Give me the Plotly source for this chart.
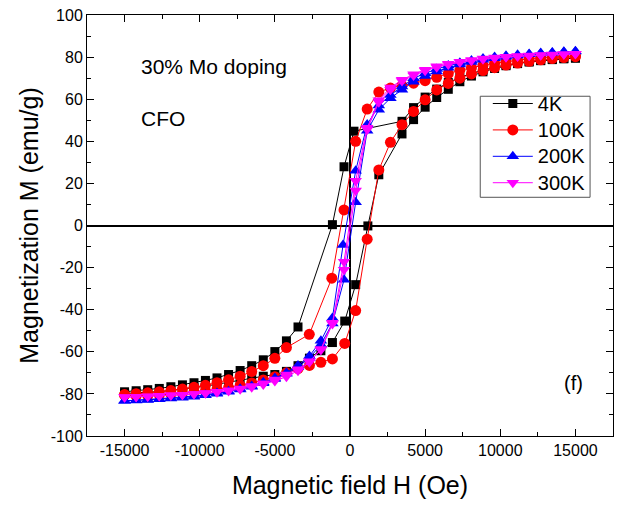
import plotly.graph_objects as go

# ---- field grid (Oe) ----
H_TAIL_POS = [15000, 14230, 13460, 12690, 11920, 11150, 10380, 9620, 8850, 8080,
              7310, 6540, 5770, 5000, 4230, 3460]
H_TAIL_NEG = [-3460, -4230, -5000, -5770, -6540, -7310, -8080, -8850, -9620, -10380,
              -11150, -11920, -12690, -13460, -14230, -15000]

# ---- 4 K ----
h4_down = H_TAIL_POS + [264, -397, -1170] + H_TAIL_NEG
m4_down = [79.6, 79.3, 78.9, 78.4, 77.8, 77.1, 76.2, 75.2, 73.9, 72.3, 70.3, 67.9, 64.8, 61.0, 56.0, 49.5,
           44.8, 27.9, 0.4,
           -48.2, -54.8, -59.9, -63.8, -66.6, -68.9, -70.8, -72.4, -73.6, -74.7, -75.7, -76.6, -77.4, -78.0, -78.5, -79.0]
h4_up = H_TAIL_NEG[::-1] + [-2700, -1936, -1170, -350, 377, 1190, 1917] + H_TAIL_POS[::-1]
m4_up = [-79.8, -79.6, -79.3, -78.9, -78.4, -77.8, -77.1, -76.3, -75.4, -74.4, -73.3, -72.3, -71.6, -70.8, -69.3, -66.6,
         -63.0, -59.5, -55.6, -45.4, -28.1, -0.2, 24.1,
         43.5, 50.3, 56.2, 60.8, 64.7, 68.3, 71.0, 73.0, 74.6, 75.9, 76.9, 77.7, 78.3, 78.8, 79.2, 79.5]

# ---- 100 K ----
h100_down = H_TAIL_POS + [2690, 1917, 1143, 377, -397, -1210, -2709] + H_TAIL_NEG[1:]
m100_down = [80.6, 80.4, 80.1, 79.7, 79.2, 78.6, 77.9, 77.1, 76.1, 75.0, 73.7, 72.2, 70.4, 68.8, 67.6, 66.5,
             65.3, 63.4, 55.3, 40.0, 7.4, -25.0, -51.7,
             -58.0, -63.1, -66.6, -69.4, -71.6, -73.3, -74.7, -75.9, -76.9, -77.7, -78.4, -79.0, -79.5, -79.9, -80.3, -80.6]
h100_up = H_TAIL_NEG[::-1] + [-2700, -1936, -1170, -350, 377, 1143, 1917, 2690] + H_TAIL_POS[::-1]
m100_up = [-81.0, -80.8, -80.5, -80.1, -79.7, -79.2, -78.6, -77.9, -77.0, -76.0, -74.8, -73.4, -71.8, -70.0, -68.0, -66.5,
           -65.0, -63.4, -56.0, -40.4, -6.5, 26.4, 39.5, 47.9,
           54.2, 59.7, 64.4, 67.5, 70.0, 72.0, 73.6, 75.0, 76.2, 77.2, 78.0, 78.7, 79.3, 79.8, 80.2, 80.5]

# ---- 200 K ----
h200_down = H_TAIL_POS + [2690, 1917, 1143, 377, -463, -1170, -1936, -2700] + H_TAIL_NEG
m200_down = [82.8, 82.5, 82.2, 81.9, 81.5, 81.1, 80.6, 80.0, 79.3, 78.4, 77.3, 76.0, 74.3, 72.3, 69.9, 66.0,
             62.0, 57.0, 48.0, 26.0, -9.3, -44.0, -54.8, -62.0,
             -66.5, -69.9, -72.5, -74.5, -76.2, -77.6, -78.7, -79.6, -80.4, -81.0, -81.5, -82.0, -82.4, -82.7, -83.0, -83.2]
h200_up = H_TAIL_NEG[::-1] + [-2700, -1936, -1170, -397, 377, 1143, 1917, 2690] + H_TAIL_POS[::-1]
m200_up = [-83.3, -83.1, -82.9, -82.6, -82.2, -81.8, -81.3, -80.7, -79.9, -79.0, -77.9, -76.6, -74.9, -72.9, -70.4, -67.2,
           -63.0, -56.5, -46.5, -25.8, 11.0, 45.0, 55.0, 60.5,
           64.5, 68.3, 71.0, 73.2, 75.0, 76.5, 77.7, 78.7, 79.5, 80.2, 80.8, 81.3, 81.7, 82.1, 82.4, 82.7]

# ---- 300 K ----
h300_down = H_TAIL_POS + [2690, 1917, 1143, 377, -397, -1170, -1936, -2700] + H_TAIL_NEG
m300_down = [81.6, 81.4, 81.2, 81.0, 80.8, 80.5, 80.2, 79.8, 79.3, 78.6, 77.8, 76.9, 75.6, 74.0, 71.8, 69.2,
             65.5, 59.5, 46.4, 21.3, -17.2, -46.2, -58.7, -65.0,
             -69.0, -71.8, -73.9, -75.5, -76.8, -77.8, -78.6, -79.2, -79.7, -80.1, -80.4, -80.7, -80.9, -81.1, -81.3, -81.5]
h300_up = H_TAIL_NEG[::-1] + [-2700, -1936, -1170, -397, 377, 1143, 1917, 2690] + H_TAIL_POS[::-1]
m300_up = [-81.6, -81.4, -81.2, -81.0, -80.7, -80.4, -80.0, -79.6, -79.0, -78.3, -77.4, -76.3, -74.9, -73.1, -70.8, -68.3,
           -64.5, -59.2, -46.8, -21.0, 16.6, 45.6, 58.5, 64.5,
           68.6, 71.3, 73.5, 75.2, 76.5, 77.5, 78.3, 79.0, 79.5, 79.9, 80.3, 80.6, 80.9, 81.1, 81.3, 81.5]

X_TICKS = [-15000, -10000, -5000, 0, 5000, 10000, 15000]
Y_TICKS = [-100, -80, -60, -40, -20, 0, 20, 40, 60, 80, 100]

FONT = "Liberation Sans, Arial, sans-serif"

series = [
    ("4K", "black", "square", 9, h4_down, m4_down, h4_up, m4_up),
    ("100K", "red", "circle", 11, h100_down, m100_down, h100_up, m100_up),
    ("200K", "blue", "triangle-up", 11, h200_down, m200_down, h200_up, m200_up),
    ("300K", "magenta", "triangle-down", 11, h300_down, m300_down, h300_up, m300_up),
]

fig = go.Figure()
for name, color, symbol, size, hd, md, hu, mu in series:
    fig.add_trace(go.Scatter(
        x=hd + hu, y=md + mu, mode="lines+markers",
        name=f"<span style='font-size:20px'>{name}</span>",
        line=dict(color=color, width=1),
        marker=dict(symbol=symbol, size=size, color=color, line=dict(width=0)),
    ))

axis_common = dict(
    showline=True, linecolor="black", linewidth=1, mirror="allticks",
    ticks="inside", ticklen=7, tickwidth=1, tickcolor="black",
    showgrid=False, zeroline=True, zerolinecolor="black", zerolinewidth=2,
    tickfont=dict(family=FONT, size=16, color="black"),
)

fig.update_xaxes(
    range=[-17500, 17500], tickvals=X_TICKS, ticktext=[str(v) for v in X_TICKS],
    minor=dict(dtick=2500, ticks="inside", ticklen=4, tickcolor="black"),
    title=dict(text="Magnetic field H (Oe)", font=dict(family=FONT, size=25, color="black"), standoff=18),
    **axis_common,
)
fig.update_yaxes(
    range=[-100, 100], tickvals=Y_TICKS, ticktext=[str(v) for v in Y_TICKS],
    minor=dict(dtick=10, ticks="inside", ticklen=4, tickcolor="black"),
    title=dict(text="Magnetization M (emu/g)", font=dict(family=FONT, size=25, color="black"), standoff=5),
    **axis_common,
)

fig.add_annotation(x=0.098, y=0.878, xref="paper", yref="paper", text="30% Mo doping",
                   showarrow=False, xanchor="left", yanchor="middle",
                   font=dict(family=FONT, size=21, color="black"))
fig.add_annotation(x=0.098, y=0.755, xref="paper", yref="paper", text="CFO",
                   showarrow=False, xanchor="left", yanchor="middle",
                   font=dict(family=FONT, size=21, color="black"))
fig.add_annotation(x=0.924, y=0.127, xref="paper", yref="paper", text="(f)",
                   showarrow=False, xanchor="center", yanchor="middle",
                   font=dict(family=FONT, size=20, color="black"))

# legend frame (white box; the legend entries sit on top of it)
fig.add_shape(type="rect", xref="paper", yref="paper",
              x0=0.7476, x1=0.9564, y0=0.567, y1=0.807,
              line=dict(color="#555555", width=1), fillcolor="white", layer="above")

fig.update_layout(
    width=621, height=507,
    margin=dict(l=87, r=7, t=11, b=71),
    plot_bgcolor="white", paper_bgcolor="white",
    font=dict(family=FONT, color="black"),
    legend=dict(
        x=0.762, y=0.833, xanchor="left", yanchor="top",
        bgcolor="rgba(0,0,0,0)", borderwidth=0,
        font=dict(family=FONT, size=18, color="black"),
        tracegroupgap=0, itemwidth=40,
    ),
    showlegend=True,
)

fig.write_html("out.html")
